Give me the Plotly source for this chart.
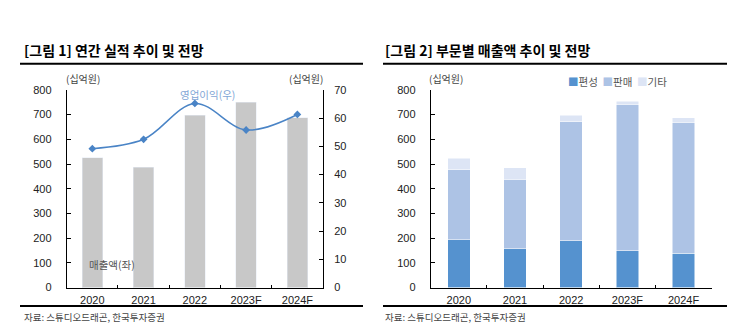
import plotly.graph_objects as go

years = ["2020", "2021", "2022", "2023F", "2024F"]
revenue = [525, 487, 697, 750, 687]
op_profit = [49.2, 52.5, 65.2, 55.8, 61.3]
seg_pyeonseong = [193, 158, 189, 150, 138]
seg_panmae = [284, 281, 483, 591, 531]
seg_gita = [47, 45, 26, 13, 19]

W, H = 741, 336
FONT = "Liberation Sans, Arial, Noto Sans CJK KR"
KFONT = "Noto Sans CJK KR, Liberation Sans"

def px(x):
    return x / W

def py(y):
    return 1 - y / H

fig = go.Figure()

# Left chart
fig.add_trace(go.Bar(x=years, y=revenue, marker_color="#c8c8c8", width=0.4,
                     xaxis="x", yaxis="y", showlegend=False))
fig.add_trace(go.Scatter(x=years, y=op_profit, mode="lines+markers",
                         line=dict(color="#4a84c6", width=1.5, shape="spline", smoothing=1.0),
                         marker=dict(symbol="diamond", size=6, color="#4a84c6"),
                         xaxis="x", yaxis="y2", showlegend=False))

# Right chart
colors = ["#5592cf", "#adc3e5", "#dde5f5"]
for vals, c in zip([seg_pyeonseong, seg_panmae, seg_gita], colors):
    fig.add_trace(go.Bar(x=years, y=vals, marker=dict(color=c, line=dict(color="white", width=0.5)),
                         width=0.4, xaxis="x3", yaxis="y3", showlegend=False))

tickfont = dict(family=FONT, size=11, color="#222")
ydom = [py(292), py(87)]

common_x = dict(type="category", showline=True, linecolor="black", linewidth=1,
                ticks="inside", tickson="boundaries", ticklen=3, tickcolor="black",
                tickfont=tickfont, showgrid=False, zeroline=False, fixedrange=True,
                ticklabelstandoff=2)
common_y = dict(range=[0, 800], dtick=100, showline=True, linecolor="black", linewidth=1,
                ticks="inside", ticklen=4, tickcolor="black", tickfont=tickfont,
                showgrid=False, zeroline=False, ticklabelstandoff=12)

fig.update_layout(
    width=W, height=H, margin=dict(l=0, r=0, t=0, b=0),
    paper_bgcolor="white", plot_bgcolor="white",
    barmode="stack", font=dict(family=FONT),
    xaxis=dict(domain=[px(66.7), px(323)], anchor="y", **common_x),
    yaxis=dict(domain=ydom, anchor="x", **common_y),
    yaxis2=dict(domain=ydom, overlaying="y", side="right", anchor="x",
                range=[0, 70], dtick=10, showline=True, linecolor="black", linewidth=1,
                ticks="inside", ticklen=4, tickcolor="black", tickfont=tickfont,
                showgrid=False, zeroline=False, ticklabelstandoff=8),
    xaxis3=dict(domain=[px(430.7), px(711.7)], anchor="y3", **common_x),
    yaxis3=dict(domain=ydom, anchor="x3", **common_y),
)

anns = [
    dict(x=px(22), y=py(46), text="<b>[그림 1] 연간 실적 추이 및 전망</b>", xanchor="left", yanchor="middle",
         font=dict(family=KFONT, size=14, color="black")),
    dict(x=px(383), y=py(46), text="<b>[그림 2] 부문별 매출액 추이 및 전망</b>", xanchor="left", yanchor="middle",
         font=dict(family=KFONT, size=14, color="black")),
    dict(x=px(83), y=py(75), text="(십억원)", xanchor="center", yanchor="middle",
         font=dict(family=KFONT, size=10, color="#444")),
    dict(x=px(306), y=py(75), text="(십억원)", xanchor="center", yanchor="middle",
         font=dict(family=KFONT, size=10, color="#444")),
    dict(x=px(446), y=py(75), text="(십억원)", xanchor="center", yanchor="middle",
         font=dict(family=KFONT, size=10, color="#444")),
    dict(x=px(207), y=py(92), text="영업이익(우)", xanchor="center", yanchor="middle",
         font=dict(family=KFONT, size=10.5, color="#7fa6d6")),
    dict(x=px(112), y=py(268), text="매출액(좌)", xanchor="center", yanchor="middle",
         font=dict(family=KFONT, size=10.5, color="#555")),
    dict(x=px(566), y=py(78), xanchor="left", yanchor="middle",
         text=("<span style='color:#5592cf'>■</span>편성  "
               "<span style='color:#adc3e5'>■</span>판매  "
               "<span style='color:#dde5f5'>■</span>기타"),
         font=dict(family=KFONT, size=10.5, color="#555")),
    dict(x=px(22), y=py(322), text="자료: 스튜디오드래곤, 한국투자증권", xanchor="left", yanchor="middle",
         font=dict(family=KFONT, size=9.5, color="#444")),
    dict(x=px(383), y=py(322), text="자료: 스튜디오드래곤, 한국투자증권", xanchor="left", yanchor="middle",
         font=dict(family=KFONT, size=9.5, color="#444")),
]
for a in anns:
    a.update(xref="paper", yref="paper", showarrow=False)
fig.update_layout(annotations=anns)

shapes = []
for x0, x1 in [(20, 363), (383, 727)]:
    for y in (60, 311):
        shapes.append(dict(type="line", xref="paper", yref="paper",
                           x0=px(x0), x1=px(x1), y0=py(y), y1=py(y),
                           line=dict(color="black", width=2)))
fig.update_layout(shapes=shapes)

fig.write_html("out.html", config={"displayModeBar": False})
